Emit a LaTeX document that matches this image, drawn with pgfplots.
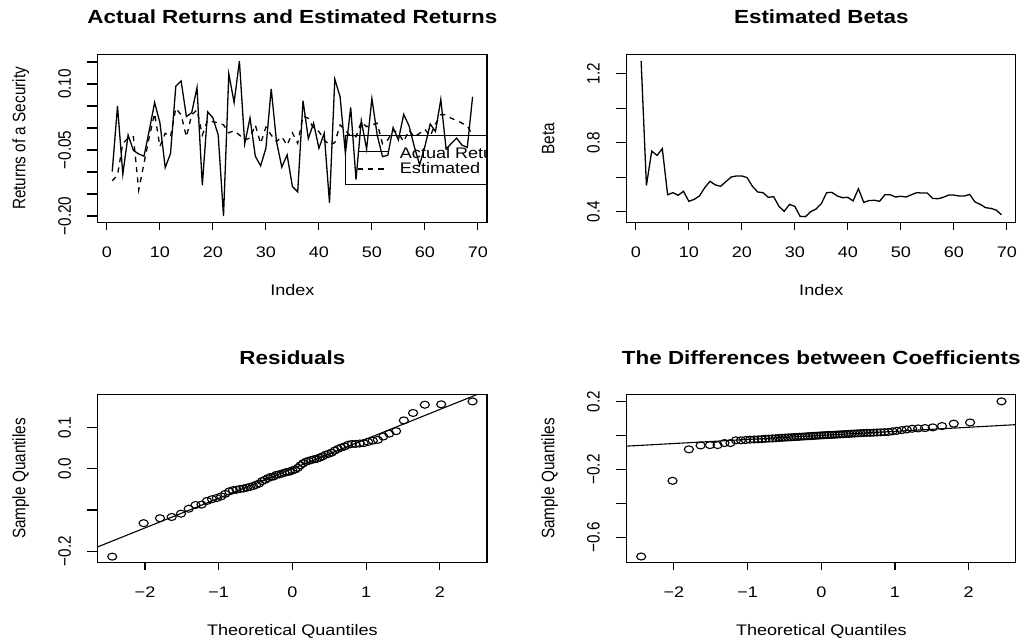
\documentclass[border=0pt]{standalone}
\usepackage{fontspec}
\setmainfont{Liberation Sans}
\usepackage{pgfplots}
\usepackage{pgfplotstable}
\pgfplotsset{compat=1.18}

\newcommand{\basefont}{\fontsize{7.65}{9}\selectfont}
\newcommand{\titlefont}{\fontsize{9.5}{11}\selectfont\bfseries}
\def\sx{1.18}

\pgfplotstableread{
i act est
1 -0.099 -0.120
2 0.050 -0.107
3 -0.105 -0.035
4 -0.016 -0.023
5 -0.051 -0.020
6 -0.059 -0.141
7 -0.064 -0.080
8 -0.005 -0.020
9 0.058 0.033
10 0.012 -0.042
11 -0.090 -0.012
12 -0.058 -0.020
13 0.095 0.045
14 0.107 0.030
15 0.026 -0.020
16 0.035 0.030
17 0.092 0.041
18 -0.130 -0.016
19 0.037 0.018
20 0.023 0.014
21 -0.016 0.012
22 -0.200 0.007
23 0.123 -0.011
24 0.058 -0.006
25 0.152 -0.016
26 -0.036 -0.027
27 0.023 -0.023
28 -0.064 0.007
29 -0.086 -0.035
30 -0.046 0.002
31 0.089 -0.016
32 -0.031 -0.031
33 -0.089 -0.020
34 -0.061 -0.039
35 -0.133 -0.011
36 -0.145 -0.035
37 0.062 0.027
38 -0.024 0.022
39 0.011 -0.001
40 -0.046 -0.008
41 -0.012 -0.027
42 -0.170 -0.039
43 0.111 -0.033
44 0.071 0.007
45 -0.058 -0.006
46 0.047 -0.018
47 -0.117 -0.020
48 0.017 0.014
49 -0.048 0.003
50 0.067 0.007
51 -0.016 0.011
52 -0.065 -0.036
53 -0.062 -0.027
54 0.001 -0.005
55 -0.027 -0.012
56 0.031 -0.031
57 0.005 -0.005
58 -0.042 -0.020
59 -0.084 -0.012
60 -0.042 -0.003
61 0.009 -0.018
62 -0.008 0.009
63 0.065 0.030
64 -0.048 0.030
65 -0.035 0.022
66 -0.023 0.017
67 -0.039 0.011
68 -0.044 0.005
69 0.071 -0.016
}\ret

\pgfplotstableread{
i beta
1 1.273
2 0.552
3 0.751
4 0.726
5 0.765
6 0.498
7 0.510
8 0.495
9 0.518
10 0.460
11 0.471
12 0.491
13 0.539
14 0.576
15 0.555
16 0.547
17 0.574
18 0.601
19 0.607
20 0.607
21 0.597
22 0.547
23 0.514
24 0.510
25 0.483
26 0.487
27 0.431
28 0.402
29 0.442
30 0.431
31 0.373
32 0.371
33 0.400
34 0.415
35 0.446
36 0.510
37 0.512
38 0.491
39 0.481
40 0.483
41 0.462
42 0.533
43 0.454
44 0.464
45 0.466
46 0.460
47 0.498
48 0.498
49 0.485
50 0.489
51 0.485
52 0.498
53 0.510
54 0.508
55 0.508
56 0.477
57 0.475
58 0.483
59 0.496
60 0.496
61 0.491
62 0.491
63 0.500
64 0.456
65 0.442
66 0.423
67 0.419
68 0.409
69 0.382
}\betas

\pgfplotstableread{
q res dif
-2.445 -0.213 -0.712
-2.019 -0.132 -0.267
-1.797 -0.120 -0.082
-1.638 -0.117 -0.059
-1.512 -0.109 -0.057
-1.407 -0.097 -0.057
-1.315 -0.088 -0.045
-1.233 -0.087 -0.045
-1.159 -0.078 -0.029
-1.091 -0.074 -0.029
-1.027 -0.071 -0.027
-0.967 -0.067 -0.025
-0.911 -0.061 -0.024
-0.857 -0.055 -0.023
-0.806 -0.052 -0.022
-0.757 -0.051 -0.020
-0.709 -0.049 -0.019
-0.663 -0.048 -0.018
-0.618 -0.046 -0.017
-0.575 -0.044 -0.015
-0.533 -0.042 -0.014
-0.492 -0.039 -0.013
-0.451 -0.036 -0.012
-0.411 -0.030 -0.011
-0.372 -0.027 -0.010
-0.333 -0.023 -0.009
-0.295 -0.020 -0.008
-0.257 -0.019 -0.007
-0.220 -0.015 -0.006
-0.183 -0.014 -0.005
-0.146 -0.012 -0.004
-0.109 -0.010 -0.003
-0.073 -0.008 -0.002
-0.036 -0.007 -0.001
0.000 -0.004 0.000
0.036 -0.002 0.001
0.073 0.002 0.002
0.109 0.008 0.003
0.146 0.013 0.003
0.183 0.017 0.004
0.220 0.019 0.005
0.257 0.021 0.006
0.295 0.023 0.007
0.333 0.024 0.008
0.372 0.027 0.009
0.411 0.030 0.010
0.451 0.034 0.011
0.492 0.036 0.012
0.533 0.039 0.013
0.575 0.044 0.014
0.618 0.048 0.015
0.663 0.051 0.015
0.709 0.054 0.016
0.757 0.058 0.017
0.806 0.060 0.018
0.857 0.060 0.019
0.911 0.061 0.020
0.967 0.062 0.024
1.027 0.065 0.027
1.091 0.068 0.031
1.159 0.070 0.035
1.233 0.078 0.039
1.315 0.085 0.041
1.407 0.091 0.043
1.512 0.117 0.047
1.638 0.135 0.055
1.797 0.155 0.069
2.019 0.156 0.076
2.445 0.163 0.200
}\qq

\pgfplotsset{
  rpanel/.style={
    scale only axis, width=194.6pt, height=84.2pt,
    axis line style={line width=0.55pt},
    every tick/.style={black, line width=0.55pt},
    tick align=outside, tick pos=left,
    major tick length=3.65pt,
    ytick style={/pgfplots/major tick length=5.4pt},
    ticklabel style={font=\basefont, inner sep=0pt},
    xticklabel style={anchor=base, xscale=\sx},
    yticklabel style={anchor=base, xscale=\sx, rotate=90},
    xticklabel shift=13.65pt, yticklabel shift=9.85pt,
    every axis title shift=0pt,
    title style={font=\titlefont, at={(axis description cs:0.5,1)}, anchor=base, inner sep=0pt, xscale=\sx},
    every axis x label/.style={at={(axis description cs:0.5,0)}, anchor=base, inner sep=0pt, font=\basefont, yshift=-36.15pt, xscale=\sx},
    every axis y label/.style={at={(axis description cs:0,0.5)}, xshift=-36.2pt, xscale=\sx, rotate=90, anchor=base, inner sep=0pt, font=\basefont},
  },
  qqmarks/.style={only marks, mark=o, mark size=1.75pt, mark options={xscale=1.3, line width=0.55pt, black}},
}

\begin{document}
\begin{tikzpicture}
\path[use as bounding box] (0,0) rectangle (513pt,321.5pt);

% top left
\begin{axis}[rpanel, at={(48.9pt,210.15pt)}, anchor=south west,
  xmin=-1.72, xmax=71.72, ymin=-0.2152, ymax=0.1675,
  xtick={0,10,20,30,40,50,60,70}, xticklabels={0,10,20,30,40,50,60,70},
  ytick={-0.20,-0.15,-0.10,-0.05,0,0.05,0.10,0.15},
  yticklabels={−0.20,,,−0.05,,,0.10,},
  title={Actual Returns and Estimated Returns}, title style={yshift=15.5pt},
  xlabel={Index}, ylabel={Returns of a Security}]
\addplot[black, line width=0.65pt, mark=none] table[x=i, y=act]{\ret};
\addplot[black, line width=0.65pt, mark=none, dash pattern=on 2.6pt off 2.6pt] table[x=i, y=est]{\ret};
\draw[line width=0.55pt] (axis cs:45,-0.0166) rectangle (axis cs:80,-0.128);
\draw[line width=0.65pt] (axis cs:47.3,-0.054) -- (axis cs:53,-0.054);
\draw[line width=0.65pt, dash pattern=on 2.6pt off 2.6pt] (axis cs:47.3,-0.093) -- (axis cs:53,-0.093);
\node[anchor=base west, inner sep=0pt, font=\basefont, xscale=\sx] at (axis cs:55.2,-0.069) {Actual Returns};
\node[anchor=base west, inner sep=0pt, font=\basefont, xscale=\sx] at (axis cs:55.2,-0.103) {Estimated Returns};
\end{axis}

% top right
\begin{axis}[rpanel, at={(313.35pt,210.15pt)}, anchor=south west,
  xmin=-1.72, xmax=71.72, ymin=0.336, ymax=1.312,
  xtick={0,10,20,30,40,50,60,70}, xticklabels={0,10,20,30,40,50,60,70},
  ytick={0.4,0.6,0.8,1.0,1.2}, yticklabels={0.4,,0.8,,1.2},
  title={Estimated Betas}, title style={yshift=15.5pt},
  xlabel={Index}, ylabel={Beta}]
\addplot[black, line width=0.65pt, mark=none] table[x=i, y=beta]{\betas};
\end{axis}

% bottom left
\begin{axis}[rpanel, at={(48.9pt,40.1pt)}, anchor=south west,
  xmin=-2.641, xmax=2.641, ymin=-0.228, ymax=0.180,
  xtick={-2,-1,0,1,2}, xticklabels={−2,−1,0,1,2},
  ytick={-0.2,-0.1,0,0.1}, yticklabels={−0.2,,0.0,0.1},
  title={Residuals}, title style={yshift=14.75pt},
  xlabel={Theoretical Quantiles}, ylabel={Sample Quantiles}]
\addplot[qqmarks] table[x=q, y=res]{\qq};
\addplot[black, line width=0.55pt, mark=none] coordinates {(-2.8,-0.2008) (2.8,0.2008)};
\end{axis}

% bottom right
\begin{axis}[rpanel, at={(313.35pt,40.1pt)}, anchor=south west,
  xmin=-2.641, xmax=2.641, ymin=-0.749, ymax=0.241,
  xtick={-2,-1,0,1,2}, xticklabels={−2,−1,0,1,2},
  ytick={-0.6,-0.4,-0.2,0,0.2}, yticklabels={−0.6,,−0.2,,0.2},
  title={The Differences between Coefficients}, title style={yshift=14.75pt},
  xlabel={Theoretical Quantiles}, ylabel={Sample Quantiles}]
\addplot[qqmarks] table[x=q, y=dif]{\qq};
\addplot[black, line width=0.55pt, mark=none] coordinates {(-2.8,-0.0669) (2.8,0.0669)};
\end{axis}
\end{tikzpicture}
\end{document}
